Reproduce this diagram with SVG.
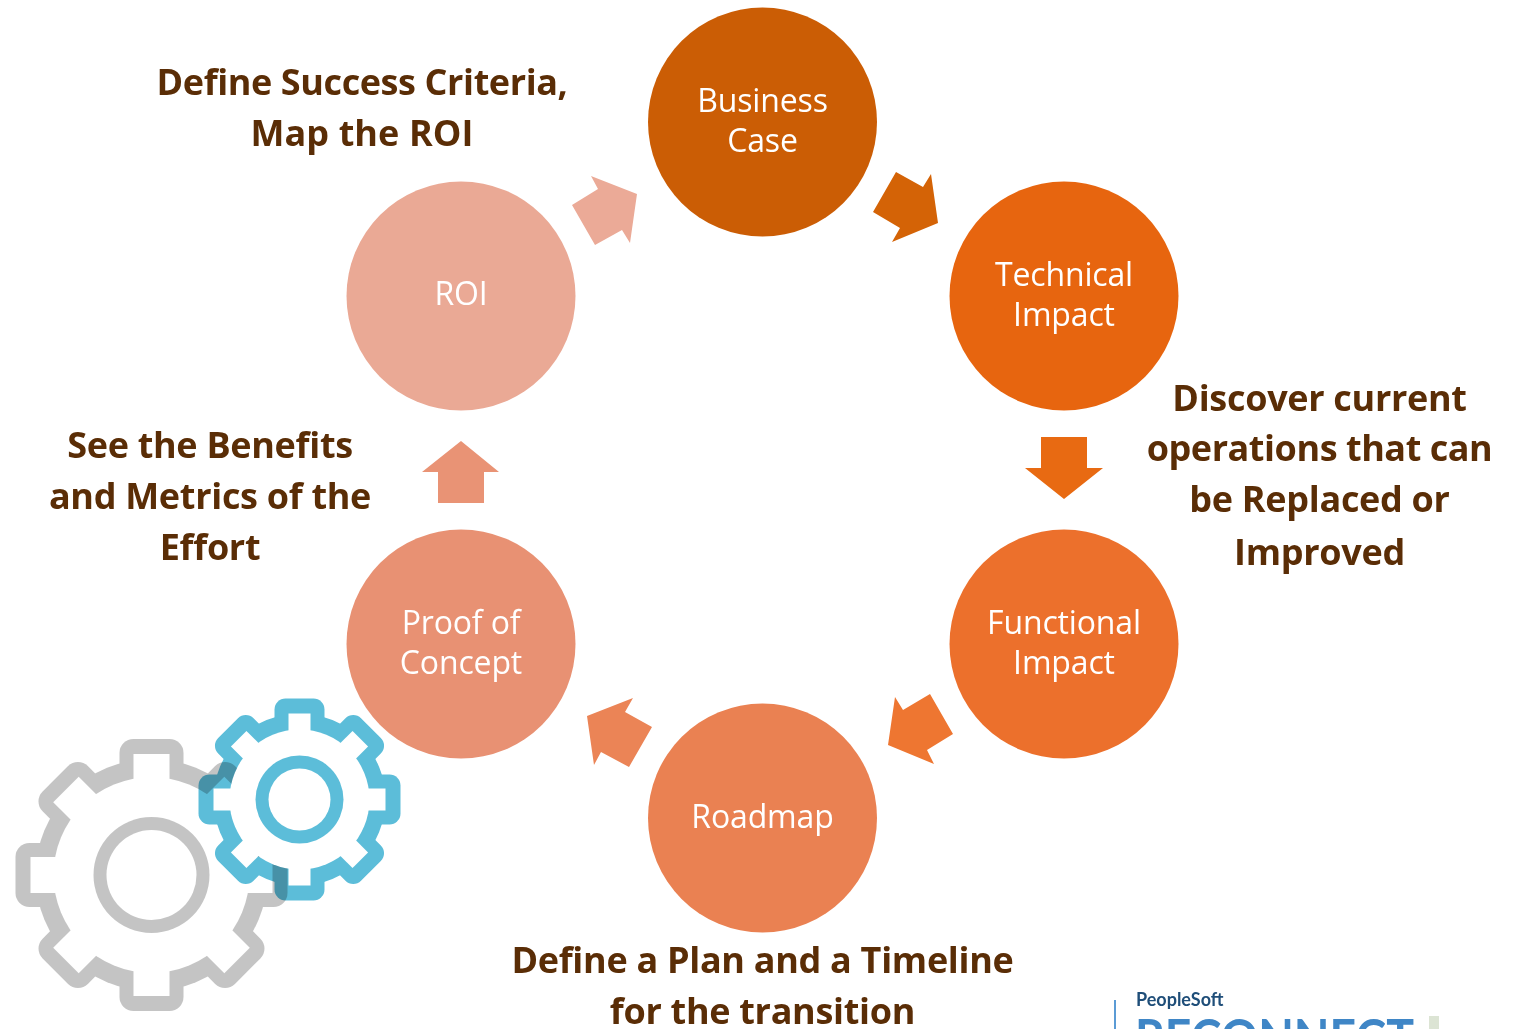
<svg xmlns="http://www.w3.org/2000/svg" xmlns:xlink="http://www.w3.org/1999/xlink" width="1517" height="1029" viewBox="0 0 1517 1029">
<style>
text{text-anchor:middle}
.n{font-family:"Open Sans","Noto Sans",sans-serif;font-size:32px;letter-spacing:-.15px;fill:#fff}
.c{font-family:"Open Sans","Noto Sans",sans-serif;font-size:36px;font-weight:700;letter-spacing:-.3px;fill:#5a2d06}
</style>
<defs>
<rect id="og" x="-32" y="-136" width="64" height="44" rx="14"/>
<rect id="ig" x="-18" y="-121" width="36" height="40"/>
<rect id="ob" x="-25" y="-101" width="50" height="35" rx="11"/>
<rect id="ib" x="-11" y="-86" width="22" height="30"/>
<g id="og8"><use xlink:href="#og"/><use xlink:href="#og" transform="rotate(45)"/><use xlink:href="#og" transform="rotate(90)"/><use xlink:href="#og" transform="rotate(135)"/><use xlink:href="#og" transform="rotate(180)"/><use xlink:href="#og" transform="rotate(225)"/><use xlink:href="#og" transform="rotate(270)"/><use xlink:href="#og" transform="rotate(315)"/></g>
<g id="ig8"><use xlink:href="#ig"/><use xlink:href="#ig" transform="rotate(45)"/><use xlink:href="#ig" transform="rotate(90)"/><use xlink:href="#ig" transform="rotate(135)"/><use xlink:href="#ig" transform="rotate(180)"/><use xlink:href="#ig" transform="rotate(225)"/><use xlink:href="#ig" transform="rotate(270)"/><use xlink:href="#ig" transform="rotate(315)"/></g>
<g id="ob8"><use xlink:href="#ob"/><use xlink:href="#ob" transform="rotate(45)"/><use xlink:href="#ob" transform="rotate(90)"/><use xlink:href="#ob" transform="rotate(135)"/><use xlink:href="#ob" transform="rotate(180)"/><use xlink:href="#ob" transform="rotate(225)"/><use xlink:href="#ob" transform="rotate(270)"/><use xlink:href="#ob" transform="rotate(315)"/></g>
<g id="ib8"><use xlink:href="#ib"/><use xlink:href="#ib" transform="rotate(45)"/><use xlink:href="#ib" transform="rotate(90)"/><use xlink:href="#ib" transform="rotate(135)"/><use xlink:href="#ib" transform="rotate(180)"/><use xlink:href="#ib" transform="rotate(225)"/><use xlink:href="#ib" transform="rotate(270)"/><use xlink:href="#ib" transform="rotate(315)"/></g>
<mask id="mg" maskUnits="userSpaceOnUse" x="-145" y="-145" width="290" height="290">
<g fill="#fff"><circle r="116"/><use xlink:href="#og8"/></g>
<g fill="#000"><circle r="98"/><use xlink:href="#ig8"/></g>
<circle r="58" fill="#fff"/><circle r="45" fill="#000"/>
</mask>
<mask id="mb" maskUnits="userSpaceOnUse" x="-110" y="-110" width="220" height="220">
<g fill="#fff"><circle r="86"/><use xlink:href="#ob8"/></g>
<g fill="#000"><circle r="70"/><use xlink:href="#ib8"/></g>
<circle r="44" fill="#fff"/><circle r="31" fill="#000"/>
</mask>
<filter id="soft" x="-5%" y="-5%" width="110%" height="110%"><feGaussianBlur stdDeviation=".6"/></filter>
</defs>
<rect width="1517" height="1029" fill="#fff"/>
<g id="connectors">
<polygon fill="#d46306" points="896,172 923,187 931,174 938,223 892,242 900,228 873,212"/>
<polygon fill="#e86a12" points="1041,437 1087,437 1087,468 1103,468 1064,499 1025,468 1041,468"/>
<polygon fill="#ee7631" points="895,697 903,710 930,694 953,734 927,750 934,764 888,745"/>
<polygon fill="#eb8456" points="633,698 625,712 652,727 629,767 601,752 594,765 587,716"/>
<polygon fill="#e99375" points="461,441 499,472 484,472 484,503 438,503 438,472 422,472"/>
<polygon fill="#ebaa97" points="591,176 637,194 630,243 622,230 595,245 572,205 598,189"/>
</g>
<g id="business-case"><circle cx="762.500" cy="122" r="114.500" fill="#cb5d05"/><text class="n" x="762.500" y="112">Business</text><text class="n" x="762.500" y="152">Case</text></g>
<g id="technical-impact"><circle cx="1064" cy="296" r="114.500" fill="#e7650f"/><text class="n" x="1064" y="286">Technical</text><text class="n" x="1064" y="326">Impact</text></g>
<g id="functional-impact"><circle cx="1064" cy="644" r="114.500" fill="#ec702c"/><text class="n" x="1064" y="634">Functional</text><text class="n" x="1064" y="674">Impact</text></g>
<g id="roadmap"><circle cx="762.500" cy="818" r="114.500" fill="#ea8152"/><text class="n" x="762.500" y="828">Roadmap</text></g>
<g id="proof-of-concept"><circle cx="461" cy="644" r="114.500" fill="#e89173"/><text class="n" x="461" y="634">Proof of</text><text class="n" x="461" y="674">Concept</text></g>
<g id="roi"><circle cx="461" cy="296" r="114.500" fill="#eaa995"/><text class="n" x="461" y="305">ROI</text></g>
<g id="callouts">
<text class="c" x="362" y="95" style="letter-spacing:-.4px">Define Success Criteria,</text>
<text class="c" x="362" y="146" style="letter-spacing:.1px">Map the ROI</text>
<text class="c" x="1319.500" y="411">Discover current</text>
<text class="c" x="1319.500" y="461" style="letter-spacing:-.45px">operations that can</text>
<text class="c" x="1319.500" y="512">be Replaced or</text>
<text class="c" x="1319.500" y="565">Improved</text>
<text class="c" x="210" y="458">See the Benefits</text>
<text class="c" x="210" y="509">and Metrics of the</text>
<text class="c" x="210" y="560">Effort</text>
<text class="c" x="762.500" y="973">Define a Plan and a Timeline</text>
<text class="c" x="762.500" y="1024">for the transition</text>
</g>
<g id="gear-grey" filter="url(#soft)" transform="translate(151.500 875)">
<rect x="-145" y="-145" width="290" height="290" fill="#c4c4c4" mask="url(#mg)"/>
</g>
<g id="gear-blue" transform="translate(299.500 799.500)">
<g fill="#fff"><circle r="70"/><use xlink:href="#ib8"/></g>
<g style="mix-blend-mode:multiply" filter="url(#soft)"><rect x="-110" y="-110" width="220" height="220" fill="#5bbdd9" mask="url(#mb)"/></g>
</g>
<g id="logo">
<rect x="1114" y="1000" width="2" height="29" fill="#5b9bd5"/>
<text x="1136" y="1006" style="text-anchor:start;font-family:Lato,sans-serif;font-weight:700;font-size:18px;fill:#1f4e79">PeopleSoft</text>
<text x="1135" y="1056" textLength="279" lengthAdjust="spacingAndGlyphs" style="text-anchor:start;font-family:Lato,sans-serif;font-weight:700;font-size:52px;fill:#3f86c6">RECONNECT</text>
<rect x="1429" y="1016" width="10" height="13" fill="#dce4d4"/>
</g>
</svg>
